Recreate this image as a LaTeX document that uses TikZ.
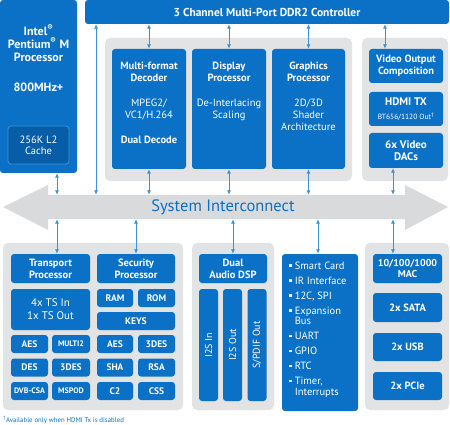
\documentclass[tikz,border=0pt]{standalone}
\usepackage{fontspec}
\setmainfont{PT Sans}
\usetikzlibrary{positioning, arrows.meta}

\definecolor{iblue}{HTML}{0A71C6}
\definecolor{dblue}{HTML}{075DA6}
\definecolor{lblue}{HTML}{3B93DB}
\definecolor{pgray}{HTML}{E2E3E4}
\definecolor{bgray}{HTML}{D9DADC}
\newcommand{\sqb}{\rule[0.22em]{2.4pt}{2.4pt}\hspace{3.2pt}}

\begin{document}
\begin{tikzpicture}[
x=1pt, y=-1pt,
box/.style={
fill=iblue,
rounded corners=3pt,
text=white,
align=center,
inner sep=0pt,
font=\fontsize{10.5}{12}\selectfont\bfseries
},
panel/.style={fill=pgray, rounded corners=5pt},
chip/.style={box, minimum height=18pt, font=\fontsize{9.5}{10}\selectfont\bfseries},
txt/.style={text=white, align=center, inner sep=0pt, font=\fontsize{10.5}{12}\selectfont},
link/.style={draw=lblue, line width=0.8pt, {Latex[length=4.5pt,width=4pt]}-{Latex[length=4.5pt,width=4pt]}}
]
\useasboundingbox (0,0) rectangle (450,425);

% processor and memory controller
\node[box, minimum width=77pt, minimum height=173pt] (cpu) at (38.5,86.5) {};
\node[txt, font=\fontsize{12}{13}\selectfont\bfseries, below=25pt of cpu.north] (cputxt)
{Intel\textsuperscript{®}\\Pentium\textsuperscript{®} M\\Processor};
\node[txt, font=\fontsize{12}{13}\selectfont\bfseries] (clk) at (38.5,87) {800MHz+};
\node[box, fill=dblue, draw=lblue, line width=0.8pt, minimum width=61pt, minimum height=38pt,
font=\fontsize{10.5}{11}\selectfont] (cache) at (38.5,145) {256K L2\\Cache};
\node[box, minimum width=364pt, minimum height=24pt, font=\fontsize{11.5}{12}\selectfont\bfseries] (ddr) at (267,12)
{3 Channel Multi-Port DDR2 Controller};

% media processors
\node[panel, minimum width=247pt, minimum height=143pt] (media) at (228.5,109.5) {};
\node[box, minimum width=74pt, minimum height=120pt] (dec) at (149,109) {};
\node[box, minimum width=74pt, minimum height=120pt] (disp) at (229,109) {};
\node[box, minimum width=73pt, minimum height=120pt] (gfx) at (308.5,109) {};
\node[txt, below=13pt of dec.north] (dectxt)
{{\bfseries Multi-format}\\{\bfseries Decoder}\\[13pt]MPEG2/\\VC1/H.264\\[13pt]{\bfseries Dual Decode}};
\node[txt, below=13pt of disp.north] (disptxt)
{{\bfseries Display}\\{\bfseries Processor}\\[13pt]De-Interlacing\\Scaling};
\node[txt, below=13pt of gfx.north] (gfxtxt)
{{\bfseries Graphics}\\{\bfseries Processor}\\[13pt]2D/3D\\Shader\\Architecture};

% video output
\node[panel, minimum width=86pt, minimum height=143pt] (vout) at (405,109.5) {};
\node[box, minimum width=74pt, minimum height=34pt] (comp) at (406,66) {Video Output\\Composition};
\node[box, minimum width=74pt, minimum height=34pt] (hdmi) at (406,109)
{\fontsize{11}{11}\selectfont HDMI TX\\[1.5pt]\mdseries\fontsize{7.5}{8}\selectfont BT656/1120 Out\textsuperscript{†}};
\node[box, minimum width=74pt, minimum height=35pt, font=\fontsize{11}{12.5}\selectfont\bfseries] (dacs) at (406,150.5)
{6x Video\\DACs};

% system interconnect
\fill[bgray] (3,207) -- (48,185) -- (48,195) -- (405,195) -- (405,185) -- (448,207)
-- (405,230) -- (405,219) -- (48,219) -- (48,230) -- cycle;
\node[inner sep=0pt, minimum width=357pt, minimum height=24pt, text=iblue,
font=\fontsize{16.5}{18}\selectfont] (bus) at (223,207) {System Interconnect};

% transport and security
\node[panel, minimum width=180pt, minimum height=167pt] (sys) at (93,326.5) {};
\node[box, minimum width=79pt, minimum height=29pt] (tp) at (50.5,268.5) {Transport\\Processor};
\node[box, minimum width=78pt, minimum height=29pt] (sec) at (136,268.5) {Security\\Processor};
\node[box, minimum width=79pt, minimum height=41pt, font=\fontsize{11}{13}\selectfont] (ts) at (50.5,309.5)
{4x TS In\\1x TS Out};
\node[chip, minimum width=36pt] (ram) at (115,298) {RAM};
\node[chip, minimum width=37pt] (rom) at (156.5,298) {ROM};
\node[chip, minimum width=78pt] (keys) at (136,321) {KEYS};
\foreach \x/\y/\w/\t/\n in {
29.5/344/37/AES/aes, 71/344/38/{\fontsize{8}{9}\selectfont MULTI2}/multi,
115/344/36/AES/saes, 156.5/344/37/3DES/stdes,
29.5/367.5/37/DES/des, 71/367.5/38/3DES/tdes,
115/367.5/36/SHA/sha, 156.5/367.5/37/RSA/rsa,
29.5/391/37/{\fontsize{8}{9}\selectfont DVB-CSA}/csa, 71/391/38/{\fontsize{8}{9}\selectfont MSPOD}/mspod,
115/391/36/C2/ctwo, 156.5/391/37/CSS/css}
\node[chip, minimum width=\w pt] (\n) at (\x,\y) {\t};

% audio
\node[panel, minimum width=82pt, minimum height=167pt] (audio) at (233,326.5) {};
\node[box, minimum width=68pt, minimum height=29pt] (dsp) at (233,268.5) {Dual\\Audio DSP};
\foreach \x/\t/\n in {208.5/{I2S In}/i2sin, 232.5/{I2S Out}/i2sout, 257/{S/PDIF Out}/spdif}
\node[box, minimum width=19pt, minimum height=112pt] (\n) at (\x,345)
{\rotatebox{90}{\mdseries\fontsize{10}{10}\selectfont\t}};

% peripherals
\node[box, minimum width=76pt, minimum height=157pt] (per) at (320,332.5) {};
\node[txt, align=left, anchor=north west, font=\fontsize{10.5}{10.5}\selectfont] (pertxt) at (289,261.5)
{\sqb Smart Card\\[4.5pt]\sqb IR Interface\\[4.5pt]\sqb 12C, SPI\\[4.5pt]\sqb Expansion\\\hspace*{5.6pt}Bus\\[4.5pt]%
\sqb UART\\[4.5pt]\sqb GPIO\\[4.5pt]\sqb RTC\\[4.5pt]\sqb Timer,\\\hspace*{5.6pt}Interrupts};

% connectivity
\node[panel, minimum width=84pt, minimum height=167pt] (io) at (407,326.5) {};
\node[box, minimum width=69pt, minimum height=29pt, font=\fontsize{10}{11}\selectfont\bfseries] (mac) at (407.5,268.5)
{10/100/1000\\MAC};
\node[box, minimum width=69pt, minimum height=29pt] (sata) at (407.5,307.5) {2x SATA};
\node[box, minimum width=69pt, minimum height=28pt] (usb) at (407.5,347) {2x USB};
\node[box, minimum width=69pt, minimum height=28pt] (pcie) at (407.5,386) {2x PCIe};

\node[anchor=west, inner sep=0pt, text=iblue, font=\fontsize{6.8}{7}\selectfont] (note) at (3,420.5)
{\textsuperscript{†}Available only when HDMI Tx is disabled};

% connectors
\coordinate (xa) at (57,0);
\coordinate (xb) at (96,0);
\coordinate (xc) at (385,0);
\coordinate (xd) at (393,0);
\coordinate (xe) at (318,0);
\foreach \i in {dec, disp, gfx}
\draw[link] (ddr.south -| \i.north) -- (\i.north);
\draw[link] (ddr.south -| xc) -- (comp.north -| xc);
\draw[link] (ddr.south -| xb) -- (bus.north -| xb);
\draw[link] (cpu.south -| xa) -- (bus.north -| xa);
\foreach \i in {dec, disp, gfx}
\draw[link] (\i.south) -- (bus.north -| \i.south);
\draw[link] (dacs.south -| xd) -- (bus.north -| xd);
\draw[link] (bus.south -| xa) -- (tp.north -| xa);
\foreach \i in {sec, dsp}
\draw[link] (bus.south -| \i.north) -- (\i.north);
\draw[link] (bus.south -| xe) -- (per.north -| xe);
\draw[link] (bus.south -| xd) -- (mac.north -| xd);
\end{tikzpicture}
\end{document}
